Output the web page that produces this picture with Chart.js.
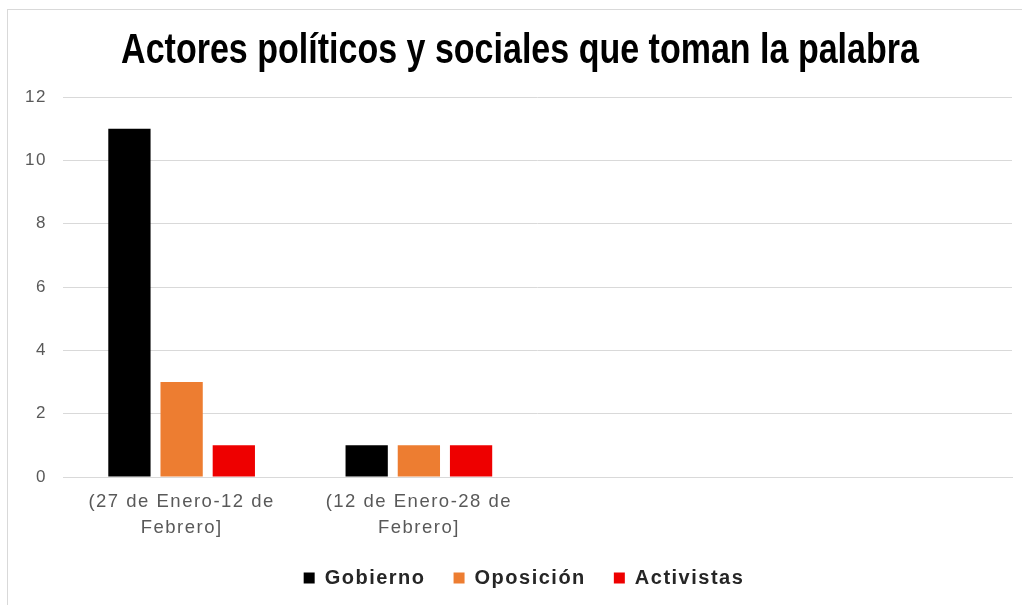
<!DOCTYPE html>
<html>
<head>
<meta charset="utf-8">
<script src="https://cdn.jsdelivr.net/npm/chart.js@4.4.1/dist/chart.umd.min.js"></script>
<style>
  html, body { margin: 0; padding: 0; background: #fff; }
  #wrap { position: relative; width: 1022px; height: 605px; overflow: hidden; }
  #frame { position: absolute; left: 7px; top: 9px; right: -2px; bottom: -2px; border: 1px solid #d9d9d9; }
  canvas { position: absolute; left: 0; top: 0; }
</style>
</head>
<body>
<div id="wrap">
  <div id="frame"></div>
  <canvas id="chart" width="1022" height="605"></canvas>
</div>
<script>
// ── Data ──────────────────────────────────────────────────────────────────────

const CATEGORIES = [
  ["(27 de Enero-12 de", "Febrero]"],
  ["(12 de Enero-28 de", "Febrero]"],
  "",
  "",
];
const GOBIERNO   = [11, 1, null, null];
const OPOSICION  = [3, 1, null, null];
const ACTIVISTAS = [1, 1, null, null];
const Y_TICKS    = [0, 2, 4, 6, 8, 10, 12];

const BLACK  = "#000000";
const ORANGE = "#ED7D31";
const RED    = "#EE0000";
const GRID   = "#d9d9d9";
const TEXT   = "#595959";
const FONT   = "'Liberation Sans', Arial, sans-serif";

// ── Text tweaks: loose spacing for labels, narrow squeeze for the title ──────

function wrapDraw(box, fn) {
  if (!box || box._wrapped) return;
  const draw = box.draw.bind(box);
  box.draw = (...args) => fn(draw, args);
  box._wrapped = true;
}

const textTweaks = {
  id: "textTweaks",
  beforeLayout(chart) { chart.ctx.letterSpacing = "1.5px"; },
  beforeDraw(chart) {
    const ctx = chart.ctx;
    ctx.letterSpacing = "1.5px";

    const t = chart.titleBlock;
    wrapDraw(t, (draw, args) => {
      ctx.save();
      ctx.letterSpacing = "0px";
      ctx.translate(520, 0);
      ctx.scale(0.81, 1);
      ctx.translate(-(t.left + t.right) / 2, 0);
      draw(...args);
      ctx.restore();
    });

    // legend sits a little right of centre in the source
    wrapDraw(chart.legend, (draw, args) => {
      ctx.save();
      ctx.translate(13, 0);
      draw(...args);
      ctx.restore();
    });
  },
};

// ── Chart ─────────────────────────────────────────────────────────────────────

const ds = (label, data, color) => ({
  label, data,
  backgroundColor: color,
  borderWidth: 0,
  categoryPercentage: 0.66,
  barPercentage: 0.81,
});

new Chart(document.getElementById("chart").getContext("2d"), {
  type: "bar",
  data: {
    labels: CATEGORIES,
    datasets: [
      ds("Gobierno", GOBIERNO, BLACK),
      ds("Oposición", OPOSICION, ORANGE),
      ds("Activistas", ACTIVISTAS, RED),
    ],
  },
  options: {
    responsive: false,
    devicePixelRatio: 1,
    animation: false,
    layout: { padding: { left: 10, right: 10, top: 9, bottom: 7 } },
    plugins: {
      title: {
        display: true,
        text: "Actores políticos y sociales que toman la palabra",
        color: "#000",
        font: { family: FONT, size: 42, weight: "bold", lineHeight: 1.2 },
        padding: { top: 17, bottom: 20.6 },
      },
      legend: {
        position: "bottom",
        labels: {
          color: "#262626",
          font: { family: FONT, size: 20, weight: "bold" },
          usePointStyle: true,
          pointStyle: "rect",
          boxWidth: 11,
          boxHeight: 11,
          padding: 28,
        },
      },
      tooltip: { enabled: false },
    },
    scales: {
      x: {
        afterFit: s => { s.height = 63; },
        grid: { display: false, drawTicks: false },
        border: { color: GRID },
        ticks: {
          color: TEXT,
          padding: 12,
          maxRotation: 0,
          autoSkip: false,
          font: { family: FONT, size: 18.5, lineHeight: 26 / 18.5 },
        },
      },
      y: {
        min: 0,
        max: 12,
        afterFit: s => { s.width = 53; },
        afterBuildTicks: s => { s.ticks = Y_TICKS.map(v => ({ value: v })); },
        grid: { color: GRID, drawTicks: false },
        border: { display: false },
        ticks: {
          color: TEXT,
          padding: 16,
          font: { family: FONT, size: 17 },
        },
      },
    },
  },
  plugins: [textTweaks],
});
</script>
</body>
</html>
